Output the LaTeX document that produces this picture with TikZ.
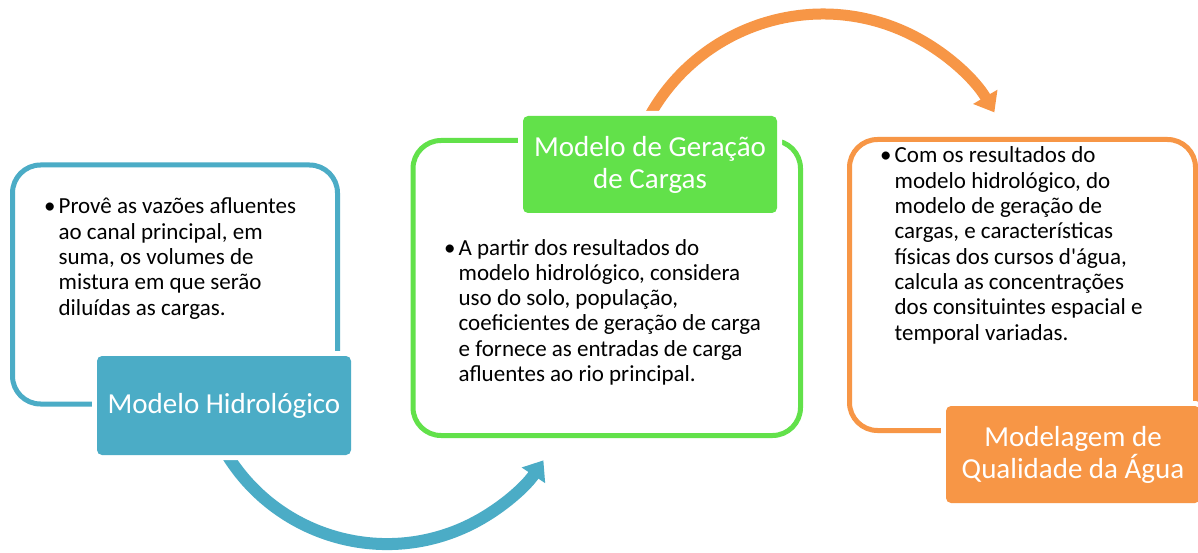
\documentclass[tikz,border=0pt]{standalone}
\usepackage{fontspec}
\setmainfont{Carlito}[Ligatures=TeXOff]
\usetikzlibrary{arrows.meta}
\definecolor{cblue}{RGB}{75,172,198}
\definecolor{cgreen}{RGB}{98,225,74}
\definecolor{corange}{RGB}{247,150,70}
\tikzset{
  panel/.style={draw, line width=5pt, rounded corners=28pt, inner sep=0pt},
  labelbox/.style={rounded corners=5pt, inner sep=0pt, text=white, align=center,
    font=\fontsize{29}{32}\selectfont,
    preaction={draw=white, line width=10pt}},
  bodytext/.style={anchor=base west, inner sep=0pt, text=black,
    font=\fontsize{23}{25.3}\selectfont},
  flow/.style={line width=12pt, -{Triangle[width=27pt,length=18pt]}},
}
\begin{document}
\begin{tikzpicture}[x=1pt,y=-1pt]
\useasboundingbox[fill=white] (0,0) rectangle (1198,553);
% panels
\node[panel, draw=cblue, minimum width=325pt, minimum height=239pt] (p1) at (175,284.5) {};
\node[panel, draw=cgreen, minimum width=387.5pt, minimum height=295pt] (p2) at (606.75,288) {};
\node[panel, draw=corange, minimum width=346pt, minimum height=291pt] (p3) at (1022.5,285) {};
% arrows
\coordinate (a1s) at (221,444.3);
\coordinate (a2s) at (646.1,122.4);
\draw[flow, cblue] (a1s) arc[start angle=152, end angle=33.7, radius=188];
\draw[flow, corange, line width=11pt] (a2s) arc[start angle=-153, end angle=-30.3, radius=198.5];
% label boxes
\node[labelbox, fill=cblue, minimum width=254pt, minimum height=99pt] (b1) at (224,405.5) {Modelo Hidrológico};
\node[labelbox, fill=cgreen, minimum width=254pt, minimum height=97pt] (b2) at (650,164.5) {Modelo de Geração\\de Cargas};
\node[labelbox, fill=corange, minimum width=254pt, minimum height=97pt] (b3) at (1073,454.5) {Modelagem de\\Qualidade da Água};
% body texts
\node[bodytext] (t1) at (44,214) {\begin{tabular}[t]{@{}l@{\hspace{3pt}}l@{}}\textbullet&Provê as vazões afluentes\\&ao canal principal, em\\&suma, os volumes de\\&mistura em que serão\\&diluídas as cargas.\end{tabular}};
\node[bodytext] (t2) at (444,255) {\begin{tabular}[t]{@{}l@{\hspace{3pt}}l@{}}\textbullet&A partir dos resultados do\\&modelo hidrológico, considera\\&uso do solo, população,\\&coeficientes de geração de carga\\&e fornece as entradas de carga\\&afluentes ao rio principal.\end{tabular}};
\node[bodytext] (t3) at (880,163) {\begin{tabular}[t]{@{}l@{\hspace{3pt}}l@{}}\textbullet&Com os resultados do\\&modelo hidrológico, do\\&modelo de geração de\\&cargas, e características\\&físicas dos cursos d'água,\\&calcula as concentrações\\&dos consituintes espacial e\\&temporal variadas.\end{tabular}};
\end{tikzpicture}
\end{document}
